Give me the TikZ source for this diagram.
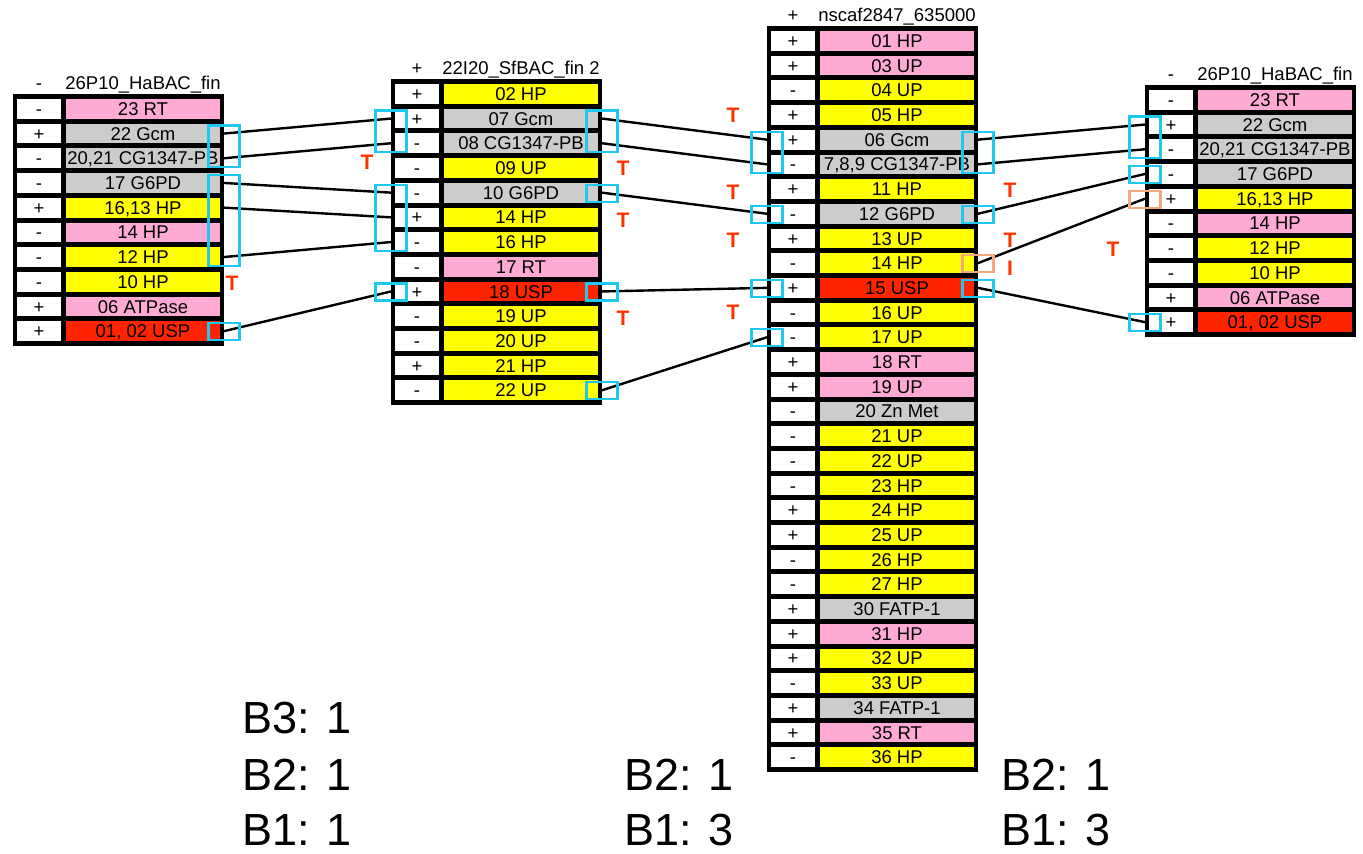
\documentclass[tikz,border=0pt]{standalone}
\usepackage{fontspec}
\setmainfont{Liberation Sans}
\usetikzlibrary{calc}
\definecolor{cpink}{RGB}{255,170,212}
\definecolor{cgray}{RGB}{204,204,204}
\definecolor{cyel}{RGB}{255,255,0}
\definecolor{cred}{RGB}{255,36,0}
\definecolor{ccyan}{RGB}{30,200,240}
\definecolor{corange}{RGB}{244,168,128}
\definecolor{tred}{RGB}{255,51,0}
\tikzset{
  cellfont/.style={font=\fontsize{18.5}{18.5}\selectfont},
  signcell/.style={cellfont, fill=white, minimum width=44pt, minimum height=19.7pt, inner sep=0pt, text height=13.2pt, text depth=0pt},
  colcell/.style={cellfont, minimum width=154pt, minimum height=19.7pt, inner sep=0pt, text height=13.2pt, text depth=0pt},
  hdr/.style={cellfont, inner sep=0pt, anchor=base},
  conn/.style={draw=black, line width=2.4pt},
  boxsty/.style={line width=2.2pt},
  tlab/.style={font=\fontsize{21}{21}\selectfont\bfseries, text=tred, inner sep=0pt, text height=15pt, text depth=0pt},
  blab/.style={font=\fontsize{45}{45}\selectfont, inner sep=0pt, anchor=base west, text depth=0pt},
}
\newcommand\mytable[7]{%
  \pgfmathsetmacro\tbot{#3+#4*24.7+5}%
  \fill[black] (#2,#3) rectangle ({#2+211},\tbot);
  \node[hdr] (t#1hs) at ({#2+26},{#3-5}) {#5};
  \node[hdr] (t#1hn) at ({#2+130},{#3-5}) {#6};
  \foreach \s/\l/\c [count=\i] in {#7} {
    \pgfmathsetmacro\yc{#3+5+(\i-1)*24.7+9.85}
    \node[signcell] (t#1s\i) at ({#2+26},\yc) {\s};
    \node[colcell, fill=\c] (t#1c\i) at ({#2+130},\yc) {\l};
    \coordinate (t#1w\i) at (#2,\yc);
    \coordinate (t#1e\i) at ({#2+211},\yc);
  }
}
\newcommand\mybox[3]{\draw[boxsty,draw=#3] ($(#1)+(-15.5,-8)$) rectangle ($(#2)+(15.5,9)$);}
\begin{document}
\begin{tikzpicture}[x=1pt,y=-1pt]
\useasboundingbox (0,0) rectangle (1363,854);
\mytable{1}{13}{94}{10}{-}{26P10\_HaBAC\_fin}{-/23 RT/cpink,+/22 Gcm/cgray,-/{20,21 CG1347-PB}/cgray,-/17 G6PD/cgray,+/{16,13 HP}/cyel,-/14 HP/cpink,-/12 HP/cyel,-/10 HP/cyel,+/06 ATPase/cpink,+/{01, 02 USP}/cred}
\mytable{2}{391}{79}{13}{+}{22I20\_SfBAC\_fin 2}{+/02 HP/cyel,+/07 Gcm/cgray,-/08 CG1347-PB/cgray,-/09 UP/cyel,-/10 G6PD/cgray,+/14 HP/cyel,-/16 HP/cyel,-/17 RT/cpink,+/18 USP/cred,-/19 UP/cyel,-/20 UP/cyel,+/21 HP/cyel,-/22 UP/cyel}
\mytable{3}{767}{26}{30}{+}{nscaf2847\_635000}{+/01 HP/cpink,+/03 UP/cpink,-/04 UP/cyel,+/05 HP/cyel,+/06 Gcm/cgray,-/{7,8,9 CG1347-PB}/cgray,+/11 HP/cyel,-/12 G6PD/cgray,+/13 UP/cyel,-/14 HP/cyel,+/15 USP/cred,-/16 UP/cyel,-/17 UP/cyel,+/18 RT/cpink,+/19 UP/cpink,-/20 Zn Met/cgray,-/21 UP/cyel,-/22 UP/cyel,-/23 HP/cyel,+/24 HP/cyel,+/25 UP/cyel,-/26 HP/cyel,-/27 HP/cyel,+/30 FATP-1/cgray,+/31 HP/cpink,+/32 UP/cyel,-/33 UP/cyel,+/34 FATP-1/cgray,+/35 RT/cpink,-/36 HP/cyel}
\mytable{4}{1145}{85}{10}{-}{26P10\_HaBAC\_fin}{-/23 RT/cpink,+/22 Gcm/cgray,-/{20,21 CG1347-PB}/cgray,-/17 G6PD/cgray,+/{16,13 HP}/cyel,-/14 HP/cpink,-/12 HP/cyel,-/10 HP/cyel,+/06 ATPase/cpink,+/{01, 02 USP}/cred}
% connectors
\draw[conn] (t1e2) -- (t2w2);
\draw[conn] (t1e3) -- (t2w3);
\draw[conn] (t1e4) -- (t2w5);
\draw[conn] (t1e5) -- (t2w6);
\draw[conn] (t1e7) -- (t2w7);
\draw[conn] (t1e10) -- (t2w9);
\draw[conn] (t2e2) -- (t3w5);
\draw[conn] (t2e3) -- (t3w6);
\draw[conn] (t2e5) -- (t3w8);
\draw[conn] (t2e9) -- (t3w11);
\draw[conn] (t2e13) -- (t3w13);
\draw[conn] (t3e5) -- (t4w2);
\draw[conn] (t3e6) -- (t4w3);
\draw[conn] (t3e8) -- (t4w4);
\draw[conn] (t3e10) -- (t4w5);
\draw[conn] (t3e11) -- (t4w10);
% boxes
\mybox{t1e2}{t1e3}{ccyan}
\mybox{t1e4}{t1e7}{ccyan}
\mybox{t1e10}{t1e10}{ccyan}
\mybox{t2w2}{t2w3}{ccyan}
\mybox{t2w5}{t2w7}{ccyan}
\mybox{t2w9}{t2w9}{ccyan}
\mybox{t2e2}{t2e3}{ccyan}
\mybox{t2e5}{t2e5}{ccyan}
\mybox{t2e9}{t2e9}{ccyan}
\mybox{t2e13}{t2e13}{ccyan}
\mybox{t3w5}{t3w6}{ccyan}
\mybox{t3w8}{t3w8}{ccyan}
\mybox{t3w11}{t3w11}{ccyan}
\mybox{t3w13}{t3w13}{ccyan}
\mybox{t3e5}{t3e6}{ccyan}
\mybox{t3e8}{t3e8}{ccyan}
\mybox{t3e10}{t3e10}{corange}
\mybox{t3e11}{t3e11}{ccyan}
\mybox{t4w2}{t4w3}{ccyan}
\mybox{t4w4}{t4w4}{ccyan}
\mybox{t4w5}{t4w5}{corange}
\mybox{t4w10}{t4w10}{ccyan}
% T labels
\node[tlab] (ta) at (232,283) {T};
\node[tlab] (tb) at (367,162) {T};
\node[tlab] (tc) at (733,115) {T};
\node[tlab] (td) at (623,168) {T};
\node[tlab] (te) at (733,192) {T};
\node[tlab] (tf) at (623,220) {T};
\node[tlab] (tg) at (733,240) {T};
\node[tlab] (th) at (623,318) {T};
\node[tlab] (ti) at (733,312) {T};
\node[tlab] (tj) at (1010,190) {T};
\node[tlab] (tk) at (1010,240) {T};
\node[tlab] (tl) at (1010,268) {I};
\node[tlab] (tm) at (1113,249) {T};
% bottom labels
\node[blab] (b1) at (242,733) {B3: 1};
\node[blab] (b2) at (242,790) {B2: 1};
\node[blab] (b3) at (242,845) {B1: 1};
\node[blab] (b4) at (624,790) {B2: 1};
\node[blab] (b5) at (624,845) {B1: 3};
\node[blab] (b6) at (1001,790) {B2: 1};
\node[blab] (b7) at (1001,845) {B1: 3};
\end{tikzpicture}
\end{document}
